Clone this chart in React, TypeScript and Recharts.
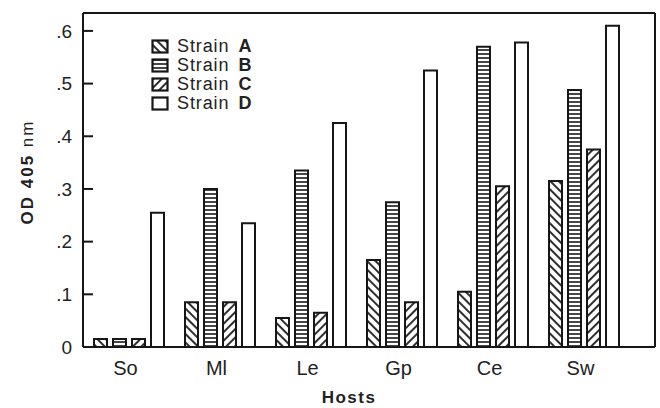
import { BarChart, Bar, XAxis, YAxis, Legend, ReferenceLine, Label } from 'recharts';

const hosts = ['So', 'Ml', 'Le', 'Gp', 'Ce', 'Sw'];
const strainA = [0.015, 0.085, 0.055, 0.165, 0.105, 0.315];
const strainB = [0.015, 0.3, 0.335, 0.275, 0.57, 0.488];
const strainC = [0.015, 0.085, 0.065, 0.085, 0.305, 0.375];
const strainD = [0.255, 0.235, 0.425, 0.525, 0.578, 0.61];

const yTicks = [0, 0.1, 0.2, 0.3, 0.4, 0.5, 0.6];
const yTickLabels = ['0', '.1', '.2', '.3', '.4', '.5', '.6'];
const yMax = 0.634;

const series = [
  { key: 'A', name: 'Strain', letter: 'A', fill: 'url(#patA)' },
  { key: 'B', name: 'Strain', letter: 'B', fill: 'url(#patB)' },
  { key: 'C', name: 'Strain', letter: 'C', fill: 'url(#patC)' },
  { key: 'D', name: 'Strain', letter: 'D', fill: '#fff' },
];

const data = hosts.map((h, i) => ({
  host: h,
  A: strainA[i],
  B: strainB[i],
  C: strainC[i],
  D: strainD[i],
}));

const INK = '#161616';
const FONT = '"Liberation Sans", Arial, Helvetica, sans-serif';

const YTick = ({ x, y, payload }: any) => {
  const idx = yTicks.indexOf(payload.value);
  return (
    <g>
      <line x1={x} x2={x + 10} y1={y} y2={y} stroke={INK} strokeWidth={2} />
      <text x={x - 11} y={y} dy="0.36em" textAnchor="end" fill="#222" fontSize={19} fontFamily={FONT}>
        {yTickLabels[idx]}
      </text>
    </g>
  );
};

const YLabel = ({ viewBox }: any) => {
  const cx = viewBox.x + 27;
  const cy = viewBox.y + viewBox.height / 2 - 8;
  return (
    <text
      x={cx}
      y={cy}
      transform={`rotate(-90, ${cx}, ${cy})`}
      textAnchor="middle"
      dominantBaseline="central"
      fill="#222"
      fontSize={17}
      fontFamily={FONT}
      letterSpacing={2}
    >
      <tspan fontWeight="bold">OD 405</tspan>
      <tspan> nm</tspan>
    </text>
  );
};

const XLabel = ({ viewBox }: any) => (
  <text
    x={viewBox.x + viewBox.width / 2 - 20}
    y={viewBox.y + 56}
    textAnchor="middle"
    fill="#222"
    fontSize={17}
    fontWeight="bold"
    fontFamily={FONT}
    letterSpacing={1.5}
  >
    Hosts
  </text>
);

const LegendBox = () => (
  <div style={{ fontFamily: FONT, fontSize: 18, color: '#222', lineHeight: '19px' }}>
    {series.map((s) => (
      <div key={s.key} style={{ display: 'flex', alignItems: 'center', whiteSpace: 'nowrap' }}>
        <svg width={19} height={15} style={{ marginRight: 7 }}>
          <rect x={1.5} y={1.5} width={15} height={12} fill={s.fill} stroke={INK} strokeWidth={2.2} />
        </svg>
        <span style={{ letterSpacing: 0.9 }}>{s.name}</span>
        <span style={{ fontWeight: 'bold', marginLeft: 9 }}>{s.letter}</span>
      </div>
    ))}
  </div>
);

export default function App() {
  return (
    <div style={{ position: 'absolute', left: 0, top: 0, width: 660, height: 408, background: '#fff' }}>
      <BarChart
        width={660}
        height={408}
        data={data}
        margin={{ top: 13, right: 0, bottom: 0, left: 0 }}
        barSize={13}
        barGap={6}
      >
        <defs>
          <pattern id="patA" patternUnits="userSpaceOnUse" width={6} height={6} patternTransform="rotate(-45)">
            <rect width={6} height={6} fill="#fff" />
            <line x1={3} y1={0} x2={3} y2={6} stroke={INK} strokeWidth={1.8} />
          </pattern>
          <pattern id="patB" patternUnits="userSpaceOnUse" width={4} height={4}>
            <rect width={4} height={4} fill="#fff" />
            <line x1={0} y1={2} x2={4} y2={2} stroke={INK} strokeWidth={1.6} />
          </pattern>
          <pattern id="patC" patternUnits="userSpaceOnUse" width={6} height={6} patternTransform="rotate(45)">
            <rect width={6} height={6} fill="#fff" />
            <line x1={3} y1={0} x2={3} y2={6} stroke={INK} strokeWidth={1.8} />
          </pattern>
        </defs>
        <XAxis
          dataKey="host"
          height={61}
          padding={{ left: 0, right: 26 }}
          tickLine={false}
          tickSize={0}
          tickMargin={14}
          axisLine={{ stroke: INK, strokeWidth: 2 }}
          tick={{ fill: '#222', fontSize: 20, fontFamily: FONT, dx: -3 }}
          interval={0}
        >
          <Label content={XLabel} />
        </XAxis>
        <YAxis
          width={83}
          domain={[0, yMax]}
          ticks={yTicks}
          allowDataOverflow
          tickLine={false}
          tickSize={0}
          tickMargin={0}
          axisLine={{ stroke: INK, strokeWidth: 2 }}
          tick={YTick}
        >
          <Label content={YLabel} />
        </YAxis>
        <YAxis
          yAxisId="right"
          orientation="right"
          width={5}
          domain={[0, yMax]}
          tick={false}
          tickLine={false}
          axisLine={{ stroke: INK, strokeWidth: 2 }}
        />
        <ReferenceLine y={yMax} stroke={INK} strokeWidth={2} />
        <Legend
          content={LegendBox}
          layout="vertical"
          align="center"
          verticalAlign="middle"
          wrapperStyle={{ position: 'absolute', left: 151, top: 37, width: 'auto', height: 'auto' }}
        />
        {series.map((s) => (
          <Bar
            key={s.key}
            dataKey={s.key}
            name={`${s.name} ${s.letter}`}
            fill={s.fill}
            stroke={INK}
            strokeWidth={2}
            isAnimationActive={false}
          />
        ))}
      </BarChart>
    </div>
  );
}
